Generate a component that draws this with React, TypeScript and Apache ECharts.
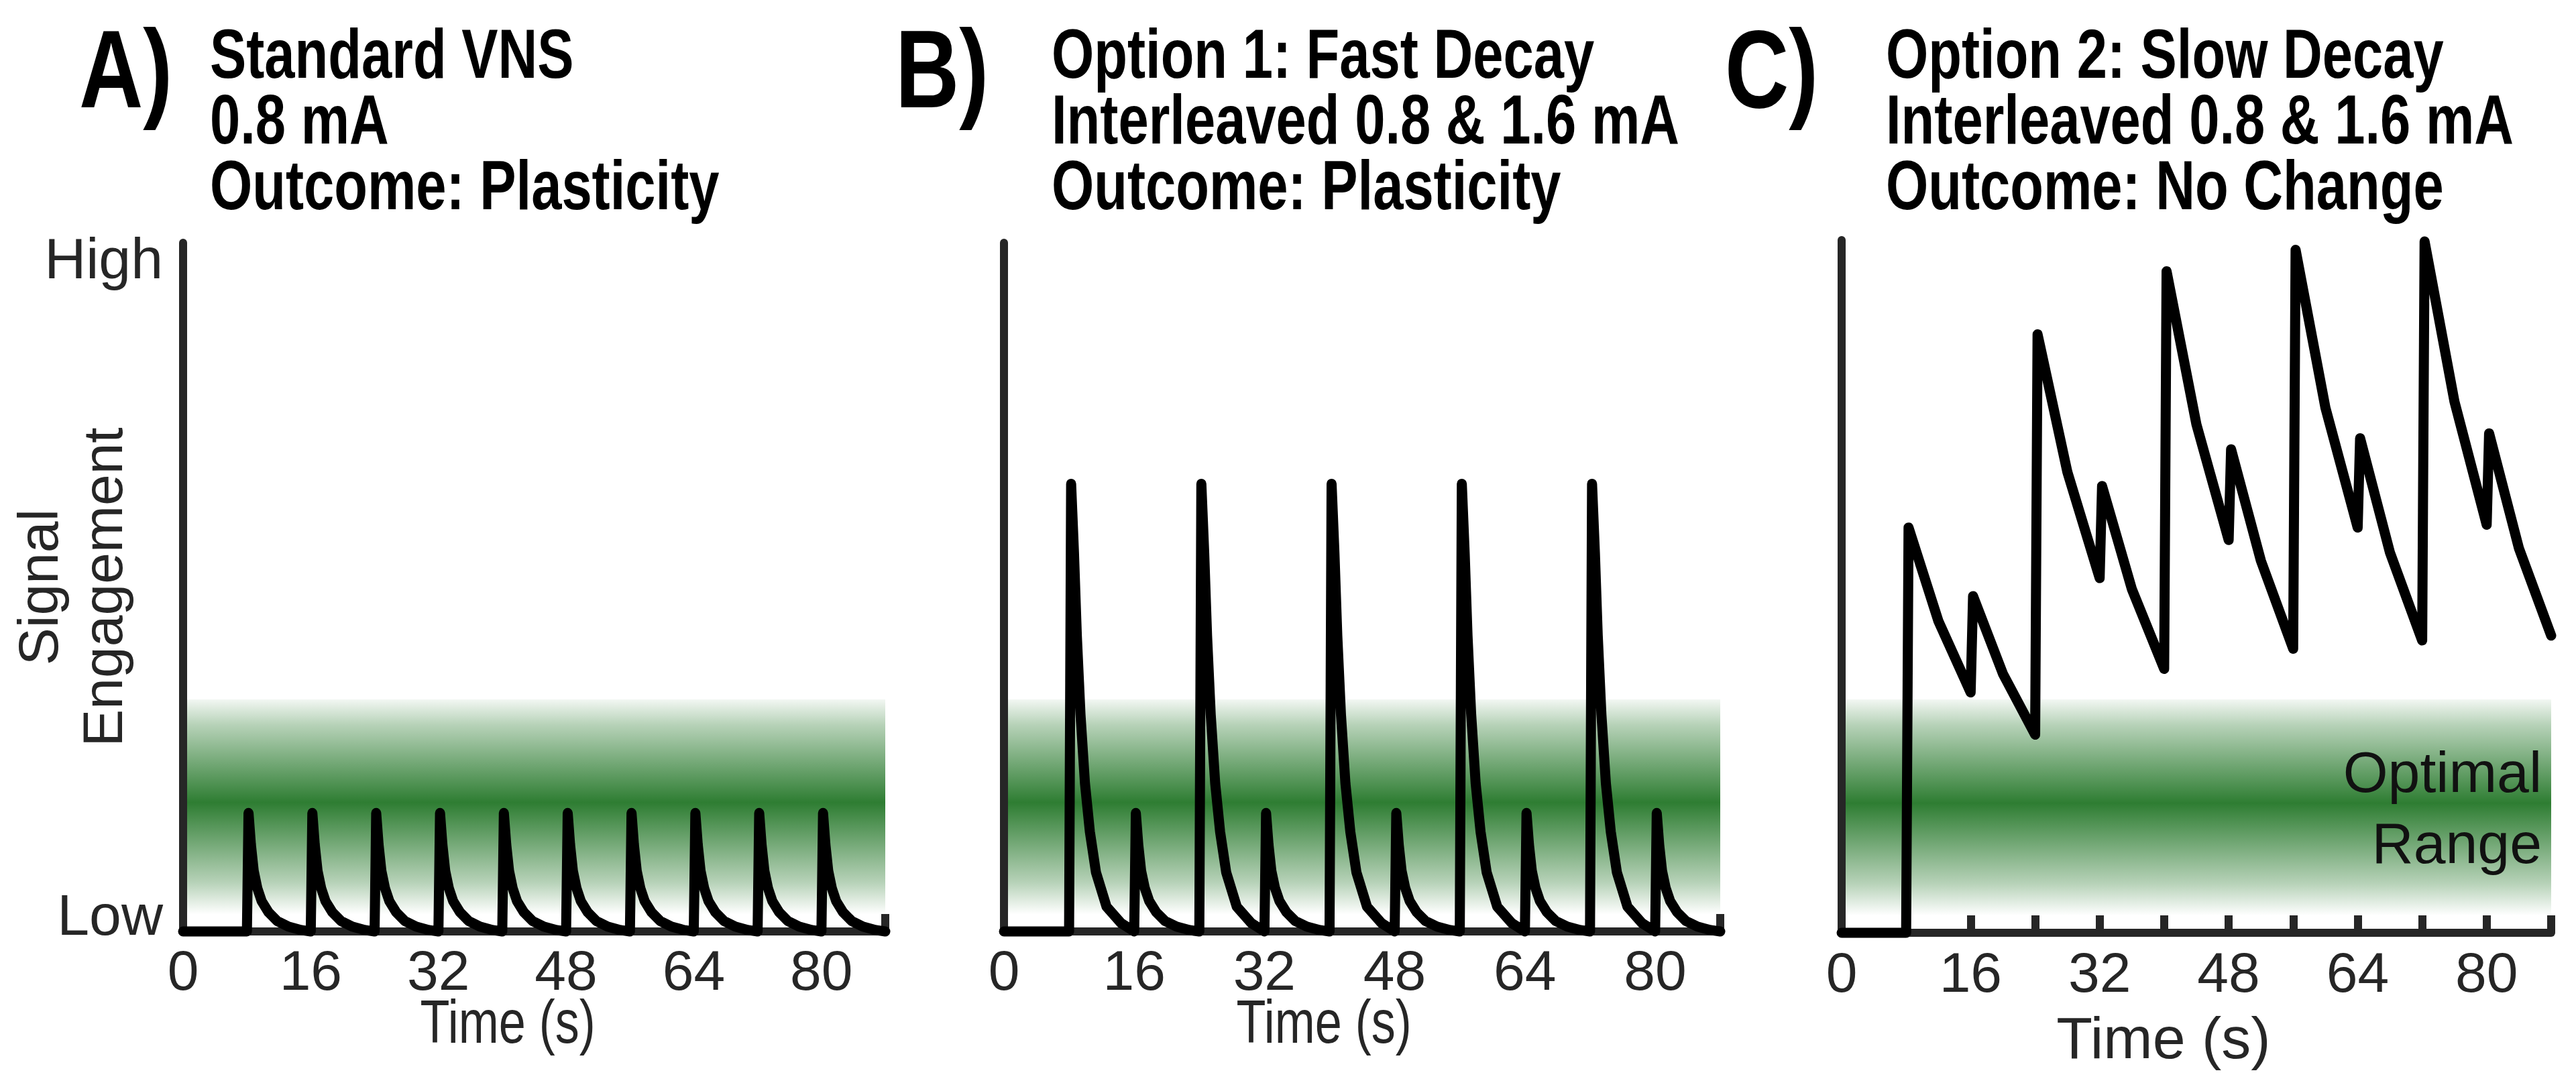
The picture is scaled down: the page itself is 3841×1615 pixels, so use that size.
import React, { useEffect, useRef } from 'react';
import * as echarts from 'echarts';

// ---------- data ----------
const timeMax = 88;
const timeInterval = 8;
const timeLabelStep = 16;
const yLabels = { low: 'Low', high: 'High' };

// shape of one 0.8 mA pulse: [seconds after onset, engagement]
const lowPulseShape: [number, number][] = [
  [0, 0], [0.2, 17.2], [0.5, 12.6], [0.85, 8.8], [1.3, 6.3], [1.85, 4.4],
  [2.7, 2.8], [3.8, 1.5], [5.2, 0.7], [6.8, 0.2], [8, 0],
];
// shape of one 1.6 mA pulse (fast decay)
const highPulseShape: [number, number][] = [
  [0, 0], [0.25, 65], [0.6, 55], [0.95, 43], [1.4, 31.5], [1.95, 21.5],
  [2.55, 14.5], [3.3, 8.6], [4.6, 3.6], [6.4, 1.2], [8, 0],
];

const onsetsA = [8, 16, 24, 32, 40, 48, 56, 64, 72, 80];
const highOnsetsB = [8, 24, 40, 56, 72];
const lowOnsetsB = [16, 32, 48, 64, 80];

// slow decay trace: [time, engagement]
const slowDecayC: [number, number][] = [
  [0, 0], [8, 0], [8.3, 58.5], [12, 45], [16, 34.7],
  [16.3, 48.6], [20, 37.4], [24, 28.6],
  [24.3, 86.4], [28, 66.5], [32, 51.2],
  [32.3, 64.5], [36, 49.6], [40, 38.1],
  [40.3, 95.5], [44, 73.4], [48, 56.7],
  [48.3, 69.8], [52, 53.7], [56, 41],
  [56.3, 98.6], [60, 75.8], [64, 58.5],
  [64.3, 71.4], [68, 54.9], [72, 42.2],
  [72.3, 99.8], [76, 76.7], [80, 58.9],
  [80.3, 72.1], [84, 55.5], [88, 42.9],
];

const optimalRange = [2.5, 33.7];

const panelLetters = ['A)', 'B)', 'C)'];
const panelTitles = [
  ['Standard VNS', '0.8 mA', 'Outcome: Plasticity'],
  ['Option 1: Fast Decay', 'Interleaved 0.8 & 1.6 mA', 'Outcome: Plasticity'],
  ['Option 2: Slow Decay', 'Interleaved 0.8 & 1.6 mA', 'Outcome: No Change'],
];
const axisTitleX = 'Time (s)';
const axisTitleY = 'Signal\nEngagement';
const bandLabel = 'Optimal\nRange';

// ---------- helpers ----------
type Shape = [number, number][];
function buildTrain(events: [number, Shape][]): [number, number][] {
  const sorted = [...events].sort((a, b) => a[0] - b[0]);
  const pts: [number, number][] = [[0, 0]];
  sorted.forEach(([onset, shape], i) => {
    const next = i + 1 < sorted.length ? sorted[i + 1][0] : timeMax;
    const last = i + 1 === sorted.length;
    shape.forEach(([dt, v]) => {
      const t = onset + dt;
      if (t < next || (last && t <= next)) pts.push([t, v]);
    });
  });
  return pts;
}

const traceA = buildTrain(onsetsA.map((o) => [o, lowPulseShape] as [number, Shape]));
const traceB = buildTrain([
  ...highOnsetsB.map((o) => [o, highPulseShape] as [number, Shape]),
  ...lowOnsetsB.map((o) => [o, lowPulseShape] as [number, Shape]),
]);
const traces = [traceA, traceB, slowDecayC];

const AXIS = '#262626';
const GREEN = '46,125,50';
const SANS = '"Liberation Sans", Arial, sans-serif';

export default function App() {
  const ref = useRef<HTMLDivElement>(null);
  useEffect(() => {
    if (!ref.current) return;
    const chart = echarts.init(ref.current, null, { renderer: 'svg' });

    const grids = [
      { left: 273, top: 362, width: 1047, height: 1027 },
      { left: 1497, top: 362, width: 1068, height: 1027 },
      { left: 2746, top: 358, width: 1058, height: 1033 },
    ].map((g) => ({ ...g, containLabel: false, outerBoundsMode: 'none' }));

    // panels A and B carry a condensed axis title drawn as graphic text; C uses the axis name
    const xAxis = grids.map((_, i) => ({
      type: 'value',
      gridIndex: i,
      min: 0,
      max: timeMax,
      interval: timeInterval,
      z: 3,
      axisLine: { show: true, lineStyle: { color: AXIS, width: 12 } },
      axisTick: { show: true, inside: true, length: 26, lineStyle: { color: AXIS, width: 12 } },
      splitLine: { show: false },
      axisLabel: {
        formatter: (v: number) => (v % timeLabelStep === 0 ? String(v) : ''),
        fontSize: 84,
        lineHeight: 62,
        fontFamily: SANS,
        color: AXIS,
        margin: i === 2 ? 28 : 27,
      },
      name: i === 2 ? axisTitleX : '',
      nameLocation: 'middle',
      nameGap: 121,
      nameMoveOverlap: false,
      nameTextStyle: {
        fontSize: 88,
        lineHeight: 70,
        fontFamily: SANS,
        color: AXIS,
        padding: [0, 98, 0, 0],
      },
    }));

    const yAxis = grids.map((_, i) => ({
      type: 'value',
      gridIndex: i,
      min: 0,
      max: 100,
      interval: 100,
      z: 3,
      axisLine: { show: true, lineStyle: { color: AXIS, width: 12 } },
      axisTick: { show: false },
      splitLine: { show: false },
      axisLabel: {
        show: i === 0,
        margin: 30,
        formatter: (v: number) => (v === 0 ? `{low|${yLabels.low}}` : v === 100 ? `{high|${yLabels.high}}` : ''),
        rich: {
          low: { fontSize: 86, color: AXIS, fontFamily: SANS, padding: [0, 0, 50, 0] },
          high: { fontSize: 86, color: AXIS, fontFamily: SANS, padding: [46, 0, 0, 0] },
        },
      },
      name: i === 0 ? axisTitleY : '',
      nameLocation: 'middle',
      nameRotate: 90,
      nameGap: 72,
      nameMoveOverlap: false,
      nameTextStyle: {
        fontSize: 84,
        lineHeight: 96,
        color: AXIS,
        fontFamily: SANS,
      },
    }));

    const gradient = new echarts.graphic.LinearGradient(0, 0, 0, 1, [
      { offset: 0, color: `rgba(${GREEN},0.06)` },
      { offset: 0.12, color: `rgba(${GREEN},0.35)` },
      { offset: 0.48, color: `rgba(${GREEN},1)` },
      { offset: 0.85, color: `rgba(${GREEN},0.35)` },
      { offset: 1, color: `rgba(${GREEN},0)` },
    ]);

    const series: any[] = [];
    traces.forEach((data, i) => {
      series.push({
        type: 'line',
        xAxisIndex: i,
        yAxisIndex: i,
        data,
        showSymbol: false,
        silent: true,
        z: 1,
        lineStyle: { opacity: 0 },
        markArea: {
          silent: true,
          itemStyle: { color: gradient },
          label: i === 2
            ? {
                show: true,
                position: 'insideRight',
                distance: 14,
                formatter: bandLabel,
                fontSize: 86,
                lineHeight: 106,
                align: 'right',
                color: '#111',
                fontFamily: SANS,
              }
            : { show: false },
          data: [[{ coord: [0, optimalRange[0]] }, { coord: [timeMax, optimalRange[1]] }]],
        },
      });
      series.push({
        type: 'line',
        xAxisIndex: i,
        yAxisIndex: i,
        data,
        showSymbol: false,
        silent: true,
        clip: false,
        z: 4,
        lineStyle: { color: '#000', width: 15, join: 'round', cap: 'round' },
      });
    });

    const letterX = [118, 1335, 2572];
    const titleX = [313, 1568, 2812];
    const lineY = [80, 178, 276];
    const graphic: any[] = [];
    panelLetters.forEach((letter, i) => {
      graphic.push({
        type: 'text',
        x: letterX[i],
        y: 103,
        scaleX: 0.8,
        style: {
          text: letter,
          font: `bold 165px ${SANS}`,
          fill: '#000',
          align: 'left',
          verticalAlign: 'middle',
        },
      });
      panelTitles[i].forEach((line, j) => {
        graphic.push({
          type: 'text',
          x: titleX[i],
          y: lineY[j],
          scaleX: 0.79,
          style: {
            text: line,
            font: `bold 103px ${SANS}`,
            fill: '#000',
            align: 'left',
            verticalAlign: 'middle',
          },
        });
      });
    });
    // condensed "Time (s)" titles under panels A and B
    [757, 1974].forEach((cx) => {
      graphic.push({
        type: 'text',
        x: cx,
        y: 1524,
        scaleX: 0.8,
        style: {
          text: axisTitleX,
          font: `90px ${SANS}`,
          fill: AXIS,
          align: 'center',
          verticalAlign: 'middle',
        },
      });
    });

    chart.setOption({
      animation: false,
      backgroundColor: '#fff',
      grid: grids,
      xAxis,
      yAxis,
      series,
      graphic,
    });
    return () => chart.dispose();
  }, []);

  return (
    <div
      ref={ref}
      style={{ position: 'fixed', left: 0, top: 0, width: 3841, height: 1615, background: '#fff' }}
    />
  );
}
